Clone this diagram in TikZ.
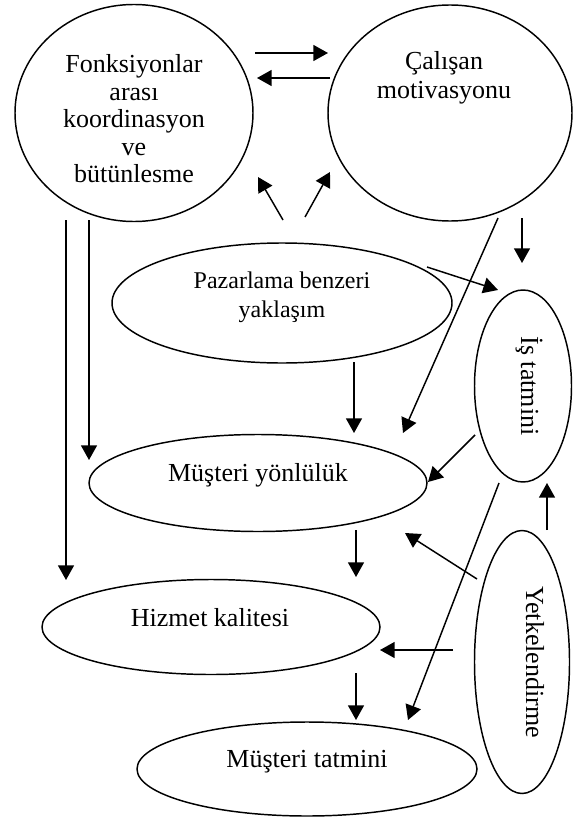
\documentclass[tikz,border=0pt]{standalone}
\usepackage{fontspec}
\setmainfont{Liberation Serif}
\usetikzlibrary{shapes.geometric,arrows.meta}
\begin{document}
\begin{tikzpicture}[x=0.75pt,y=-0.75pt,
  ell/.style={draw,ellipse,line width=1.1pt,inner sep=0pt},
  lbl/.style={font=\fontsize{19.5}{20.6}\selectfont,align=center,inner sep=0pt},
  lblb/.style={font=\fontsize{19.5}{21.75}\selectfont,align=center,inner sep=0pt},
  lbls/.style={font=\fontsize{18}{21.75}\selectfont,align=center,inner sep=0pt},
  arr/.style={line width=1.1pt,-{Triangle[length=11pt,width=12pt]}}]
\useasboundingbox (0,0) rectangle (579,820);
% shapes
\node[ell, minimum width=178.5pt, minimum height=162.75pt] (fk) at (134,113) {};
\node[ell, minimum width=183pt, minimum height=162pt] (cm) at (450,113) {};
\node[ell, minimum width=255pt, minimum height=90pt] (pz) at (282,303) {};
\node[ell, minimum width=72.75pt, minimum height=144pt] (is) at (523,386) {};
\node[ell, minimum width=253.5pt, minimum height=72.75pt] (my) at (258,483) {};
\node[ell, minimum width=253.5pt, minimum height=71.25pt] (hk) at (211,627) {};
\node[ell, minimum width=71.25pt, minimum height=197.25pt] (yk) at (522,662) {};
\node[ell, minimum width=255pt, minimum height=70.5pt] (mt) at (307,769) {};
% texts
\node[lbl] (fkt) at (134,119) {Fonksiyonlar\\arası\\koordinasyon\\ve\\bütünlesme};
\node[lblb] (cmt) at (444,77.5) {Çalışan\\motivasyonu};
\node[lbls] (pzt) at (282,297.5) {Pazarlama benzeri\\yaklaşım};
\node[lbl, rotate=-90] (ist) at (529,386) {İş tatmini};
\node[lbl] (myt) at (258,475) {Müşteri yönlülük};
\node[lbl] (hkt) at (210,618) {Hizmet kalitesi};
\node[lbl, rotate=-90] (ykt) at (535,662) {Yetkelendirme};
\node[lbl] (mtt) at (307,762) {Müşteri tatmini};
% connector end points
\coordinate (a1s) at (255,53);  \coordinate (a1e) at (328,53);
\coordinate (a2s) at (330,78);  \coordinate (a2e) at (257,78);
\coordinate (a3s) at (283,220); \coordinate (a3e) at (258,177);
\coordinate (a4s) at (305,217); \coordinate (a4e) at (330,172);
\coordinate (a5s) at (66,220);  \coordinate (a5e) at (66,580);
\coordinate (a6s) at (89,220);  \coordinate (a6e) at (89,460);
\coordinate (a7s) at (522,218); \coordinate (a7e) at (522,263);
\coordinate (a8s) at (498,218); \coordinate (a8e) at (403,433);
\coordinate (a9s) at (427,267); \coordinate (a9e) at (498,290);
\coordinate (a10s) at (354,362); \coordinate (a10e) at (354,433);
\coordinate (a11s) at (475,435); \coordinate (a11e) at (428,482);
\coordinate (a12s) at (499,483); \coordinate (a12e) at (408,720);
\coordinate (a13s) at (547,530); \coordinate (a13e) at (547,483);
\coordinate (a14s) at (356,530); \coordinate (a14e) at (356,577);
\coordinate (a15s) at (477,579); \coordinate (a15e) at (405,533);
\coordinate (a16s) at (453,650); \coordinate (a16e) at (380,650);
\coordinate (a17s) at (356,673); \coordinate (a17e) at (356,720);
% connectors
\foreach \i in {1,...,17} {\draw[arr] (a\i s) -- (a\i e);}
\end{tikzpicture}
\end{document}
